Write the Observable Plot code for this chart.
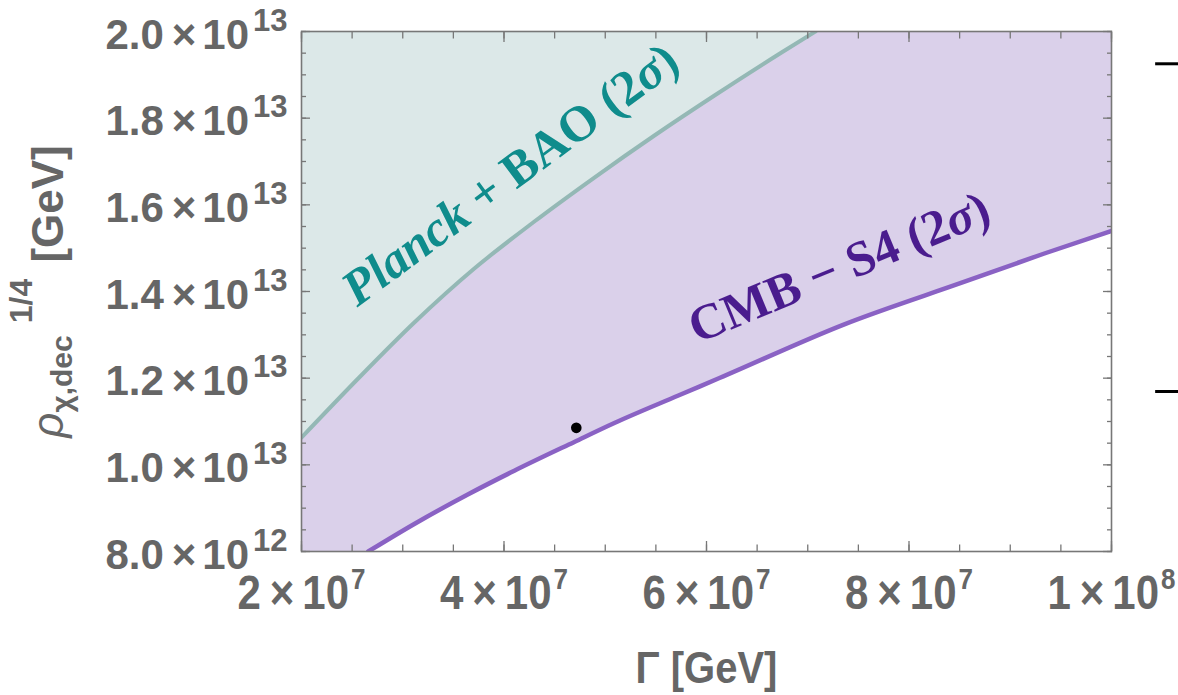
<!DOCTYPE html>
<html><head><meta charset="utf-8">
<script src="https://cdn.jsdelivr.net/npm/d3@7"></script>
<script src="https://cdn.jsdelivr.net/npm/@observablehq/plot@0.6"></script>
<style>body{margin:0;background:#fff}#chart svg{display:block}</style>
</head><body><div id="chart"></div>
<script>
// Planck + BAO (2σ) boundary
const gammaPlanck = [2.0e7, 2.560e7, 3.114e7, 3.707e7, 4.300e7, 4.893e7, 5.486e7, 6.079e7, 6.741e7, 7.077e7];
const rhoPlanck   = [1.063e13, 1.1992e13, 1.3284e13, 1.4530e13, 1.5615e13, 1.6630e13, 1.7600e13, 1.8523e13, 1.9515e13, 2.0e13];
// CMB-S4 (2σ) boundary
const gammaCMB = [2.659e7, 3.114e7, 3.647e7, 4.102e7, 4.695e7, 5.090e7, 5.722e7, 6.128e7, 7.368e7, 8.535e7, 9.337e7, 10.011e7];
const rhoCMB   = [0.800e13, 0.8636e13, 0.9321e13, 0.9864e13, 1.0529e13, 1.0965e13, 1.1599e13, 1.2003e13, 1.3249e13, 1.4214e13, 1.4877e13, 1.5407e13];
// benchmark point
const pointGamma = [4.714e7];
const pointRho = [1.0854e13];
// ticks
const xTicks = [2e7, 4e7, 6e7, 8e7, 1e8];
const xTickMantissa = ["2", "4", "6", "8", "1"];
const xTickExponent = ["7", "7", "7", "7", "8"];
const yTicks = [8e12, 1.0e13, 1.2e13, 1.4e13, 1.6e13, 1.8e13, 2.0e13];
const yTickMantissa = ["8.0", "1.0", "1.2", "1.4", "1.6", "1.8", "2.0"];
const yTickExponent = ["12", "13", "13", "13", "13", "13", "13"];
const xMinor = d3.range(2e7, 1e8 + 1, 5e6);
const yMinor = d3.range(8e12, 2e13 + 1, 5e11);
// annotations
const planckLabel = {g: 4.06e7, r: 1.670e13, text: "Planck + BAO (2σ)"};
const cmbLabel = {g: 7.309e7, r: 1.455e13, text: "CMB − S4 (2σ)"};
const edgeMarkRho = [1.9255e13, 1.1692e13];

const planck = gammaPlanck.map((g, i) => ({g, r: rhoPlanck[i]}));
const cmb = gammaCMB.map((g, i) => ({g, r: rhoCMB[i]}));
const pts = pointGamma.map((g, i) => ({g, r: pointRho[i]}));

const AX = "#777";
const tickOpts = {stroke: AX, strokeWidth: 1.3, tickFormat: () => "", label: null};
const serif = "'Liberation Serif', 'Times New Roman', serif";

const svg = Plot.plot({
  width: 1178, height: 695,
  marginLeft: 301, marginRight: 67, marginTop: 31, marginBottom: 144,
  x: {type: "linear", domain: [2e7, 1e8]},
  y: {type: "linear", domain: [8e12, 2e13]},
  style: {fontFamily: "'Liberation Sans', Arial, sans-serif", color: "#666", background: "#fff", overflow: "visible"},
  marks: [
    Plot.frame({fill: "#dad0ea", stroke: null}),
    Plot.areaY(cmb, {x: "g", y1: 8e12, y2: "r", fill: "#ffffff", curve: "monotone-x", clip: true}),
    Plot.areaY(planck, {x: "g", y1: "r", y2: 2e13, fill: "#dce8e8", curve: "monotone-x", clip: true}),
    Plot.line(planck, {x: "g", y: "r", stroke: "#94b8b5", strokeWidth: 4, curve: "monotone-x", clip: true}),
    Plot.line(cmb, {x: "g", y: "r", stroke: "#8a62c4", strokeWidth: 4.5, curve: "monotone-x", clip: true}),
    Plot.dot(pts, {x: "g", y: "r", r: 5.3, fill: "#000", stroke: null}),
    Plot.text([planckLabel], {x: "g", y: "r", text: "text", rotate: -36.5, fontSize: 50, fontWeight: "bold",
      fontFamily: serif, fill: "#0f8c8c"}),
    Plot.text([cmbLabel], {x: "g", y: "r", text: "text", rotate: -22.5, fontSize: 50, fontWeight: "bold",
      fontFamily: serif, fill: "#4a1c8e"}),
    Plot.frame({stroke: AX, strokeWidth: 1.6, fill: "none"}),
    // inward ticks on all four sides
    Plot.axisX(xMinor, {anchor: "bottom", tickSize: -6.5, ...tickOpts}),
    Plot.axisX(xTicks, {anchor: "bottom", tickSize: -10, ...tickOpts}),
    Plot.axisX(xMinor, {anchor: "top", tickSize: -6.5, ...tickOpts}),
    Plot.axisX(xTicks, {anchor: "top", tickSize: -10, ...tickOpts}),
    Plot.axisY(yMinor, {anchor: "left", tickSize: -5, ...tickOpts}),
    Plot.axisY(yTicks, {anchor: "left", tickSize: -9, ...tickOpts}),
    Plot.axisY(yMinor, {anchor: "right", tickSize: -5, ...tickOpts}),
    Plot.axisY(yTicks, {anchor: "right", tickSize: -9, ...tickOpts}),
    // tick labels
    Plot.axisX(xTicks, {anchor: "bottom", tickSize: 0, tickPadding: 0, label: null, fontSize: 42, fontWeight: "bold", fill: "#666",
      tickFormat: d => "X" + xTicks.indexOf(d)}),
    Plot.axisY(yTicks, {anchor: "left", tickSize: 0, tickPadding: 14, label: null, fontSize: 42, fontWeight: "bold", fill: "#666",
      tickFormat: d => "Y" + yTicks.indexOf(d)}),
    // axis titles
    Plot.text(["Γ [GeV]"], {frameAnchor: "bottom", dy: 131, lineAnchor: "bottom", text: d => d, fontSize: 40, fontWeight: "bold", fill: "#666"}),
    Plot.text(["YTITLE"], {frameAnchor: "left", dx: -239, rotate: -90, lineAnchor: "bottom", textAnchor: "middle", text: d => d, fontSize: 44, fontWeight: "bold", fill: "#666"}),
    // short black marks at the right edge
    Plot.ruleY(edgeMarkRho, {x1: 1.0436e8, x2: 1.0675e8, stroke: "#000", strokeWidth: 3})
  ]
});

const NS = "http://www.w3.org/2000/svg";
function rich(el, parts) {
  el.textContent = "";
  el.setAttribute("style", (el.getAttribute("style") || "") + ";white-space:pre");
  for (const p of parts) {
    const ts = document.createElementNS(NS, "tspan");
    ts.textContent = p.t;
    for (const [k, v] of Object.entries(p.a || {})) ts.setAttribute(k, v);
    el.appendChild(ts);
  }
}
svg.querySelectorAll("text").forEach(el => {
  const s = el.textContent;
  if (/^X\d+$/.test(s)) {
    const i = +s.slice(1);
    rich(el, [
      {t: xTickMantissa[i]},
      {t: "×", a: {dx: 9}},
      {t: "10", a: {dx: 8}},
      {t: xTickExponent[i], a: {dx: 2, dy: -18, "font-size": 26}}
    ]);
    el.setAttribute("y", 50);
    el.setAttribute("transform", el.getAttribute("transform") + " scale(1,1.16)");
  } else if (/^Y\d+$/.test(s)) {
    const i = +s.slice(1);
    rich(el, [
      {t: yTickMantissa[i]},
      {t: "×", a: {dx: 8}},
      {t: "10", a: {dx: 6}},
      {t: yTickExponent[i], a: {dx: 4, dy: -18, "font-size": 31}}
    ]);
    el.setAttribute("y", 17);
  } else if (s === "Γ [GeV]") {
    el.setAttribute("transform", el.getAttribute("transform") + " scale(1,1.12)");
  } else if (s === "YTITLE") {
    rich(el, [
      {t: "ρ", a: {"font-style": "italic", "font-weight": "normal"}},
      {t: "χ,dec", a: {dy: 9, "font-size": 30}},
      {t: "1/4", a: {dx: 12, dy: -40, "font-size": 32}},
      {t: " [GeV]", a: {dx: 4, dy: 31}}
    ]);
  } else if (s === planckLabel.text) {
    rich(el, [
      {t: "Planck", a: {"font-style": "italic"}},
      {t: " + BAO (2"},
      {t: "σ", a: {"font-style": "italic"}},
      {t: ")"}
    ]);
  } else if (s === cmbLabel.text) {
    rich(el, [
      {t: "CMB − S4 (2"},
      {t: "σ", a: {"font-style": "italic"}},
      {t: ")"}
    ]);
  }
});
document.getElementById("chart").appendChild(svg);
</script>
</body></html>
